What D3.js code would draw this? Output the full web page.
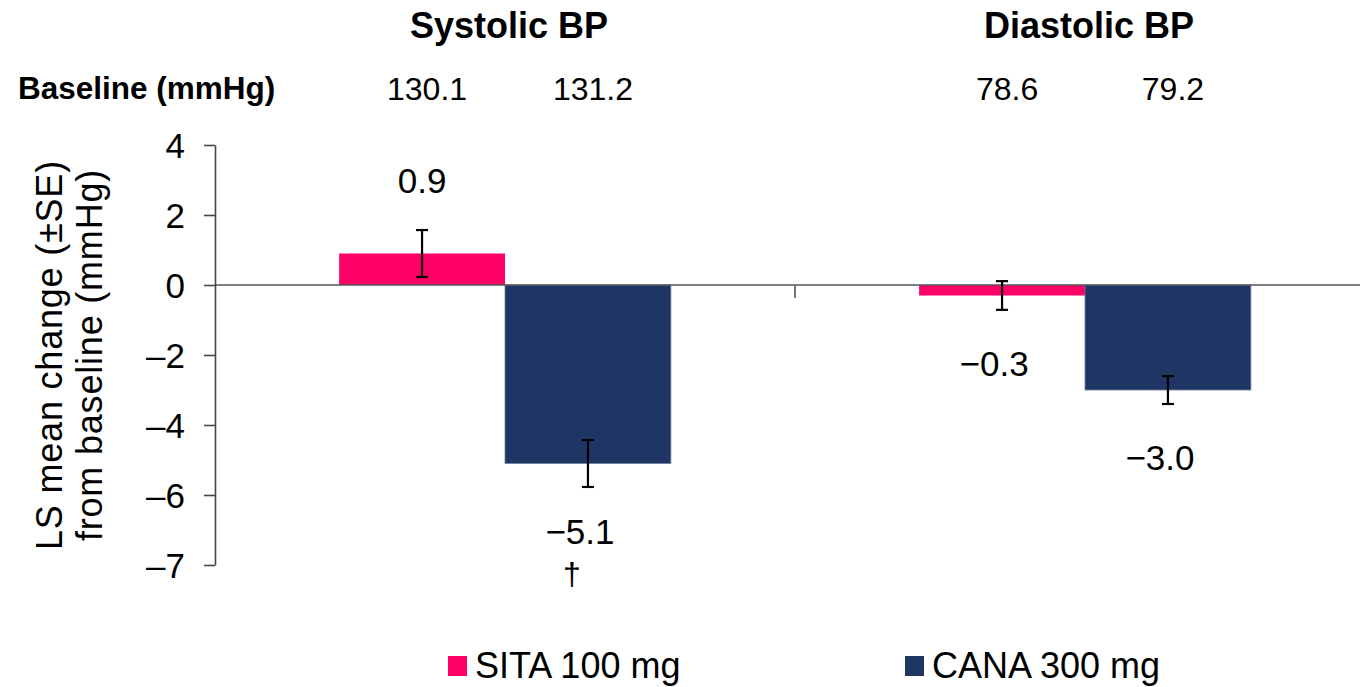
<!DOCTYPE html>
<html>
<head>
<meta charset="utf-8">
<script src="https://cdn.jsdelivr.net/npm/d3@7"></script>
<style>
  html, body { margin: 0; padding: 0; background: #fff; }
  svg { display: block; }
  text { font-family: "Liberation Sans", Arial, Helvetica, sans-serif; fill: #000; }
</style>
</head>
<body>
<svg id="chart" width="1360" height="687"></svg>
<script>
// Blood pressure change from baseline, by treatment arm
const groups = ["Systolic BP", "Diastolic BP"];
const series = ["SITA 100 mg", "CANA 300 mg"];
const seriesColors = ["#ff0066", "#1f3564"];

const sitaChange = [0.9, -0.3];
const canaChange = [-5.1, -3.0];
const sitaSE = [0.67, 0.41];
const canaSE = [0.67, 0.40];
const sitaBaseline = [130.1, 78.6];
const canaBaseline = [131.2, 79.2];
const canaMarks = ["†", ""];

const yTicks = [4, 2, 0, -2, -4, -6, -7];

const W = 1360, H = 687;
const svg = d3.select("#chart");

const dash = v => String(v).replace("-", "\u2013");
const fmtValue = v => dash(d3.format(".1f")(v));

// Axis runs 4 at the top down to -7 at the bottom; the last interval is drawn stretched
const y = d3.scaleLinear().domain([-7, -6, 4]).range([565, 495, 145]);

const x0 = d3.scaleBand().domain(groups).range([215, 1375])
  .paddingInner(0.428).paddingOuter(0.214);
const x1 = d3.scaleBand().domain(series).range([0, x0.bandwidth()]);

const rows = [];
groups.forEach((g, gi) => {
  rows.push({ g, s: series[0], si: 0, v: sitaChange[gi], se: sitaSE[gi], base: sitaBaseline[gi], mark: "" });
  rows.push({ g, s: series[1], si: 1, v: canaChange[gi], se: canaSE[gi], base: canaBaseline[gi], mark: canaMarks[gi] });
});
const cx = d => x0(d.g) + x1(d.s) + x1.bandwidth() / 2;

// Bars
svg.append("g").selectAll("rect").data(rows).join("rect")
  .attr("x", d => x0(d.g) + x1(d.s))
  .attr("width", x1.bandwidth())
  .attr("y", d => y(Math.max(0, d.v)))
  .attr("height", d => Math.abs(y(d.v) - y(0)))
  .attr("fill", d => seriesColors[d.si])
  .attr("stroke", d => d.si === 1 ? "#6f7f99" : "none")
  .attr("stroke-width", 0.8);

// Zero line and group separator tick
const zero = svg.append("g").attr("stroke", "#555").attr("stroke-width", 1.6);
zero.append("line").attr("x1", x0.range()[0]).attr("x2", W)
  .attr("y1", y(0)).attr("y2", y(0));
const sepX = x0(groups[1]) - x0.step() * x0.paddingInner() / 2;
zero.append("line").attr("x1", sepX).attr("x2", sepX)
  .attr("y1", y(0)).attr("y2", y(0) + 13);

// Y axis
const yAxis = svg.append("g")
  .attr("transform", `translate(${x0.range()[0]},0)`)
  .call(d3.axisLeft(y).tickValues(yTicks).tickSize(11).tickSizeOuter(0)
    .tickPadding(19).tickFormat(dash));
yAxis.select(".domain").attr("stroke", "#444").attr("stroke-width", 1.6);
yAxis.selectAll(".tick line").attr("stroke", "#444").attr("stroke-width", 1.6);
yAxis.selectAll(".tick text")
  .style("font-family", "'Liberation Sans', Arial, sans-serif")
  .attr("font-size", 35).attr("fill", "#000").attr("dy", "0.36em");
yAxis.attr("font-family", null);

// Error bars (±SE)
const eb = svg.append("g").attr("stroke", "#000").attr("stroke-width", 2.2).attr("fill", "none");
rows.forEach(d => {
  const x = cx(d), t = y(d.v + d.se), b = y(d.v - d.se);
  eb.append("line").attr("x1", x).attr("x2", x).attr("y1", t).attr("y2", b);
  eb.append("line").attr("x1", x - 6).attr("x2", x + 6).attr("y1", t).attr("y2", t);
  eb.append("line").attr("x1", x - 6).attr("x2", x + 6).attr("y1", b).attr("y2", b);
});

// Value labels
svg.append("g").selectAll("text").data(rows).join("text")
  .attr("x", d => cx(d) + (d.v < 0 ? -8 : 0))
  .attr("y", d => d.v >= 0 ? y(d.v) - 61 : y(d.v) + 80)
  .attr("text-anchor", "middle")
  .attr("font-size", 35)
  .text(d => fmtValue(d.v));

svg.append("g").selectAll("text").data(rows.filter(d => d.mark)).join("text")
  .attr("x", d => cx(d) - 16)
  .attr("y", d => y(d.v) + 121)
  .attr("text-anchor", "middle")
  .attr("font-size", 32)
  .text(d => d.mark);

// Group headings and baseline values
svg.append("g").selectAll("text").data(groups).join("text")
  .attr("x", d => x0(d) + x0.bandwidth() / 2 + 4)
  .attr("y", 38)
  .attr("text-anchor", "middle")
  .attr("font-size", 36)
  .attr("font-weight", "bold")
  .text(d => d);

svg.append("text")
  .attr("x", 18).attr("y", 99)
  .attr("font-size", 31.5)
  .attr("font-weight", "bold")
  .text("Baseline (mmHg)");

svg.append("g").selectAll("text").data(rows).join("text")
  .attr("x", d => cx(d) + 5)
  .attr("y", 100)
  .attr("text-anchor", "middle")
  .attr("font-size", 32)
  .text(d => d.base.toFixed(1));

// Y axis title
const yt = svg.append("text")
  .attr("transform", `translate(62,${(y(4) + y(-7)) / 2}) rotate(-90)`)
  .attr("text-anchor", "middle")
  .attr("font-size", 36)
  .attr("letter-spacing", 0.8);
yt.append("tspan").attr("x", 0).attr("dy", 0).text("LS mean change (\u00b1SE)");
yt.append("tspan").attr("x", 0).attr("dy", 40).text("from baseline (mmHg)");

// Legend
const lg = svg.append("g").selectAll("g").data(series).join("g")
  .attr("transform", (d, i) => `translate(${448 + i * 457},0)`);
lg.append("rect").attr("x", 0).attr("y", 656).attr("width", 19).attr("height", 20)
  .attr("fill", (d, i) => seriesColors[i]);
lg.append("text").attr("x", 27).attr("y", 678).attr("font-size", 36).text(d => d);
</script>
</body>
</html>
